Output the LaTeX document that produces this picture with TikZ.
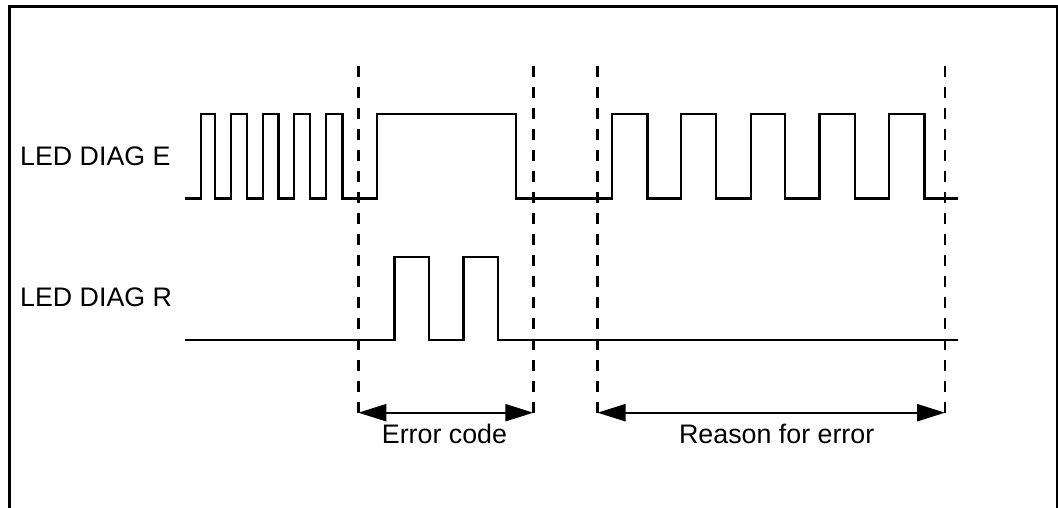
\documentclass[tikz,border=0pt]{standalone}
\usepackage{fontspec}
\setmainfont{Liberation Sans}
\usetikzlibrary{arrows.meta}
\begin{document}
\begin{tikzpicture}[x=1pt,y=-1pt,
  wave/.style={line width=2.4pt,line join=miter},
  guide/.style={line width=2.4pt,dash pattern=on 11pt off 10pt},
  span/.style={line width=2.4pt,{Triangle[length=28pt,width=17pt]}-{Triangle[length=28pt,width=17pt]}},
  lbl/.style={font=\fontsize{26.8}{30}\selectfont,inner sep=0pt}]
\useasboundingbox (0,0) rectangle (1058,508);
\begin{scope}
\clip (0,0) rectangle (1058,508);
\draw[line width=2.6pt] (9.3,520) -- (9.3,6.3) -- (1057,6.3) -- (1057,520);
\end{scope}
% guide lines
\foreach \n/\x in {a/358.3,b/533.3,c/597.5,d/945}{
  \coordinate (\n-top) at (\x,66);
  \coordinate (\n-bot) at (\x,418);
  \coordinate (\n-arr) at (\x,412.7);
  \draw[guide] (\n-top) -- (\n-bot);
}
% LED DIAG E
\def\H{114.3}\def\L{198.3}
\draw[wave] (185,\L)
  -- (200.7,\L) -- (200.7,\H) -- (215,\H) -- (215,\L)
  -- (231,\L) -- (231,\H) -- (246.7,\H) -- (246.7,\L)
  -- (262.7,\L) -- (262.7,\H) -- (278.3,\H) -- (278.3,\L)
  -- (294,\L) -- (294,\H) -- (310,\H) -- (310,\L)
  -- (325.7,\L) -- (325.7,\H) -- (342.3,\H) -- (342.3,\L)
  -- (376.7,\L) -- (376.7,\H) -- (515.7,\H) -- (515.7,\L)
  -- (611.7,\L) -- (611.7,\H) -- (647.3,\H) -- (647.3,\L)
  -- (681,\L) -- (681,\H) -- (716,\H) -- (716,\L)
  -- (750.7,\L) -- (750.7,\H) -- (785,\H) -- (785,\L)
  -- (819.3,\L) -- (819.3,\H) -- (855,\H) -- (855,\L)
  -- (889,\L) -- (889,\H) -- (924.3,\H) -- (924.3,\L)
  -- (958.3,\L);
% LED DIAG R
\def\RH{256.7}\def\RL{340}
\draw[wave] (185,\RL)
  -- (394.3,\RL) -- (394.3,\RH) -- (429,\RH) -- (429,\RL)
  -- (463.3,\RL) -- (463.3,\RH) -- (497.7,\RH) -- (497.7,\RL)
  -- (958.3,\RL);
% labels
\node[lbl,anchor=base west] (le) at (20,165) {LED DIAG E};
\node[lbl,anchor=base west] (lr) at (20,306) {LED DIAG R};
% spans
\draw[span] (a-arr) -- (b-arr);
\draw[span] (c-arr) -- (d-arr);
\node[lbl,anchor=base] (ec) at (444.5,443) {Error code};
\node[lbl,anchor=base] (re) at (776.7,443) {Reason for error};
\end{tikzpicture}
\end{document}
